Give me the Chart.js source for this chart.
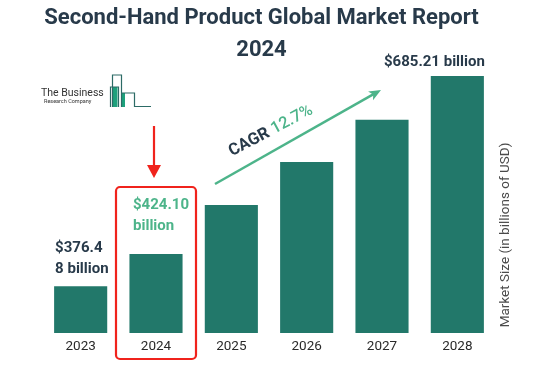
<!DOCTYPE html>
<html>
<head>
<meta charset="utf-8">
<script src="https://cdn.jsdelivr.net/npm/chart.js@4.4.1/dist/chart.umd.min.js"></script>
<style>
  html, body { margin: 0; padding: 0; background: #ffffff; }
  #wrap { width: 554px; height: 367px; }
</style>
</head>
<body>
<div id="wrap"><canvas id="c" width="554" height="367"></canvas></div>
<script>
// ---- data ----
const years = ["2023", "2024", "2025", "2026", "2027", "2028"];
const marketSize = [376.48, 424.10, 496, 559, 621, 685.21];   // billions USD (2025-2027)
const titleLines = ["Second-Hand Product Global Market Report", "2024"];
const labelFirst = ["$376.4", "8 billion"];
const labelHighlight = ["$424.10", "billion"];
const labelLast = "$685.21 billion";
const cagrLabel = "CAGR";
const cagrValue = "12.7%";
const yAxisTitle = "Market Size (in billions of USD)";
const logoLines = ["The Business", "Research Company"];

const BAR = '#22786a';
const DARK = '#283a4a';
const GREEN = '#4db48a';
const RED = '#f0231c';

function arrowHead(ctx, x1, y1, x2, y2, len, w, color) {
  const a = Math.atan2(y2 - y1, x2 - x1);
  ctx.save();
  ctx.translate(x2, y2);
  ctx.rotate(a);
  ctx.beginPath();
  ctx.moveTo(0, 0);
  ctx.lineTo(-len, -w / 2);
  ctx.lineTo(-len * 0.75, 0);
  ctx.lineTo(-len, w / 2);
  ctx.closePath();
  ctx.fillStyle = color;
  ctx.fill();
  ctx.restore();
}

const decor = {
  id: 'decor',
  afterDraw(chart) {
    const ctx = chart.ctx;
    const bars = chart.getDatasetMeta(0).data;
    ctx.save();

    // title
    ctx.fillStyle = DARK;
    ctx.textAlign = 'center';
    ctx.textBaseline = 'middle';
    ctx.font = 'bold 22px Roboto';
    ctx.fillText(titleLines[0], 261.5, 18);
    ctx.fillText(titleLines[1], 261.5, 50);

    // logo
    ctx.textAlign = 'left';
    ctx.fillStyle = '#333333';
    ctx.font = '10.5px Roboto';
    ctx.fillText(logoLines[0], 41, 93);
    ctx.font = '5.5px Roboto';
    ctx.fillText(logoLines[1], 44, 101.5);
    ctx.strokeStyle = '#2c6b66';
    ctx.lineWidth = 1.2;
    ctx.fillStyle = '#1ea17c';
    ctx.fillRect(112.5, 87, 5, 20);
    ctx.fillRect(121.5, 93, 3.5, 14);
    ctx.beginPath();
    ctx.moveTo(112.5, 107); ctx.lineTo(112.5, 75); ctx.lineTo(121.5, 75); ctx.lineTo(121.5, 107);
    ctx.moveTo(110.5, 107); ctx.lineTo(110.5, 87); ctx.lineTo(118.5, 87); ctx.lineTo(118.5, 107);
    ctx.moveTo(121.5, 93); ctx.lineTo(134.5, 93); ctx.lineTo(134.5, 106.5); ctx.lineTo(151, 106.5);
    ctx.stroke();

    // value labels
    const b0 = bars[0], b1 = bars[1], b5 = bars[5];
    ctx.font = 'bold 15px Roboto';
    ctx.fillStyle = DARK;
    ctx.textAlign = 'left';
    const l0 = b0.x - b0.width / 2 + 1;
    ctx.fillText(labelFirst[0], l0, 248);
    ctx.fillText(labelFirst[1], l0, 269);

    ctx.fillStyle = GREEN;
    const l1 = b1.x - 23;
    ctx.fillText(labelHighlight[0], l1, 205);
    ctx.fillText(labelHighlight[1], l1, 226);

    ctx.fillStyle = DARK;
    ctx.textAlign = 'right';
    ctx.font = 'bold 15px Roboto';
    ctx.fillText(labelLast, b5.x + b5.width / 2 + 1, 62);

    // red highlight box
    ctx.strokeStyle = RED;
    ctx.lineWidth = 2.2;
    ctx.beginPath();
    ctx.roundRect(b1.x - 40, 187, 80, 172, 4);
    ctx.stroke();

    // red arrow
    const ax = b1.x - 2;
    ctx.lineWidth = 2.2;
    ctx.beginPath();
    ctx.moveTo(ax, 126);
    ctx.lineTo(ax, 168);
    ctx.stroke();
    ctx.fillStyle = RED;
    ctx.beginPath();
    ctx.moveTo(ax - 7, 165);
    ctx.lineTo(ax + 7, 165);
    ctx.lineTo(ax, 178);
    ctx.closePath();
    ctx.fill();

    // CAGR arrow
    const x1 = 215, y1 = 184, x2 = 381, y2 = 90;
    const ang = Math.atan2(y2 - y1, x2 - x1);
    ctx.strokeStyle = GREEN;
    ctx.lineWidth = 2.5;
    ctx.beginPath();
    ctx.moveTo(x1, y1);
    ctx.lineTo(x2 - 6 * Math.cos(ang), y2 - 6 * Math.sin(ang));
    ctx.stroke();
    arrowHead(ctx, x1, y1, x2, y2, 12, 10, GREEN);

    // CAGR text
    ctx.save();
    ctx.translate(271, 131);
    ctx.rotate(-28 * Math.PI / 180);
    ctx.textBaseline = 'middle';
    ctx.textAlign = 'left';
    ctx.font = 'bold 16.5px Roboto';
    const w1 = ctx.measureText(cagrLabel + ' ').width;
    ctx.font = '500 16.5px Roboto';
    const w2 = ctx.measureText(cagrValue).width;
    const start = -(w1 + w2) / 2;
    ctx.font = 'bold 16.5px Roboto';
    ctx.fillStyle = DARK;
    ctx.fillText(cagrLabel, start, 0);
    ctx.font = '500 16.5px Roboto';
    ctx.fillStyle = GREEN;
    ctx.fillText(cagrValue, start + w1, 0);
    ctx.restore();

    // y-axis title (right side)
    ctx.save();
    ctx.translate(506, 235);
    ctx.rotate(-Math.PI / 2);
    ctx.textAlign = 'center';
    ctx.textBaseline = 'middle';
    ctx.fillStyle = '#4a4a4a';
    ctx.font = '13.5px Roboto';
    ctx.fillText(yAxisTitle, 0, 0);
    ctx.restore();

    ctx.restore();
  }
};

new Chart(document.getElementById('c'), {
  type: 'bar',
  data: {
    labels: years,
    datasets: [{
      data: marketSize,
      backgroundColor: BAR,
      borderWidth: 0,
      barPercentage: 0.705,
      categoryPercentage: 1.0
    }]
  },
  options: {
    responsive: false,
    animation: false,
    devicePixelRatio: 1,
    layout: { padding: { top: 66, left: 43, right: 59, bottom: 0 } },
    plugins: { legend: { display: false }, tooltip: { enabled: false }, title: { display: false } },
    scales: {
      x: {
        grid: { display: false, drawTicks: false },
        border: { display: false },
        ticks: { color: '#2a2a2a', font: { family: 'Roboto', size: 13.5 }, padding: 6 },
        afterFit(scale) { scale.height = 34; }
      },
      y: {
        display: false,
        min: 308,
        max: 700
      }
    }
  },
  plugins: [decor]
});
</script>
</body>
</html>
